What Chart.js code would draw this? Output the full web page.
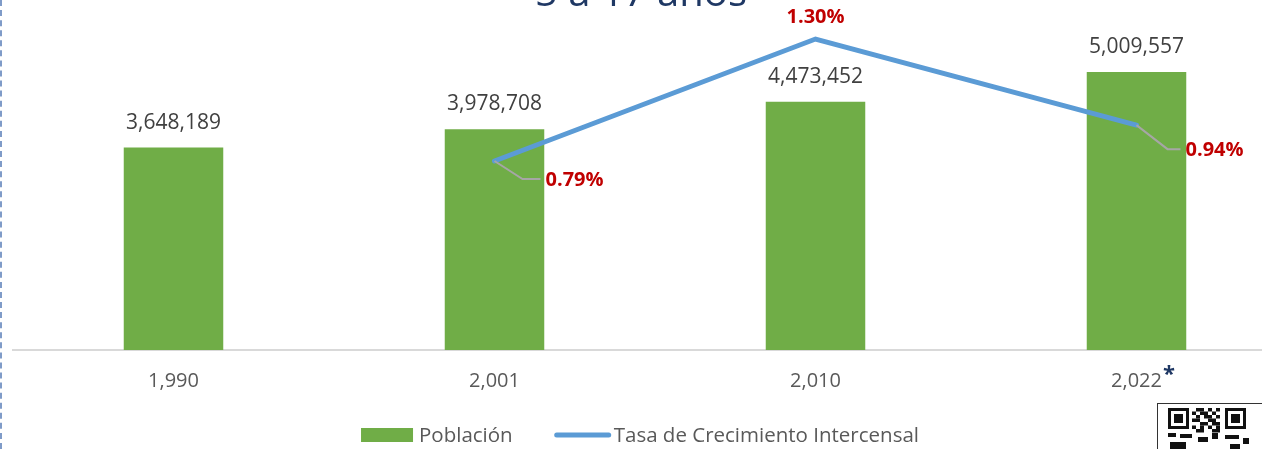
<!DOCTYPE html>
<html lang="es">
<head>
  <meta charset="UTF-8" />
  <title>Población 5 a 17 años</title>
  <script src="https://cdn.jsdelivr.net/npm/chart.js"></script>
  <style>
    body {
      margin: 0;
      padding: 0;
      background: #fff;
      overflow: hidden;
      font-family: 'Open Sans', sans-serif;
    }
    .marco {
      position: absolute;
      left: 0;
      top: 0;
      width: 1300px;
      height: 449px;
    }
    .borde {
      position: absolute;
      left: 0;
      top: 0;
      height: 449px;
      border-left: 2px dashed #7f9bc8;
    }
  </style>
</head>
<body>
  <div class="marco"><canvas id="grafico" width="1300" height="449"></canvas></div>
  <div class="borde"></div>

  <script>
    const anios = ["1,990", "2,001", "2,010", "2,022"];
    const poblacion = [3648189, 3978708, 4473452, 5009557];
    const tasa = [null, 0.79, 1.30, 0.94];

    // donde va cada etiqueta de tasa respecto a su punto
    const posTasa = [null, { dx: 28, dy: 18, largo: 18 }, { dx: 0, dy: -22, arriba: true }, { dx: 31, dy: 24, largo: 13 }];

    const etiquetas = {
      id: 'etiquetas',
      afterDatasetsDraw(chart) {
        const ctx = chart.ctx;
        ctx.save();

        // valores sobre las barras
        const barras = chart.getDatasetMeta(0).data;
        ctx.font = '21px "Open Sans", sans-serif';
        ctx.fillStyle = '#404040';
        ctx.textAlign = 'center';
        ctx.textBaseline = 'middle';
        barras.forEach((b, i) => {
          ctx.fillText(poblacion[i].toLocaleString('en-US'), b.x, b.y - 25);
        });

        // tasas en rojo con su guía gris
        const puntos = chart.getDatasetMeta(1).data;
        ctx.font = 'bold 20px "Open Sans", sans-serif';
        puntos.forEach((p, i) => {
          const pos = posTasa[i];
          if (tasa[i] === null || !pos) return;
          const txt = tasa[i].toFixed(2) + '%';
          if (pos.arriba) {
            ctx.fillStyle = '#c00000';
            ctx.textAlign = 'center';
            ctx.fillText(txt, p.x, p.y + pos.dy);
            return;
          }
          ctx.strokeStyle = '#a6a6a6';
          ctx.lineWidth = 2;
          ctx.beginPath();
          ctx.moveTo(p.x, p.y);
          ctx.lineTo(p.x + pos.dx, p.y + pos.dy);
          ctx.lineTo(p.x + pos.dx + pos.largo, p.y + pos.dy);
          ctx.stroke();
          ctx.fillStyle = '#c00000';
          ctx.textAlign = 'left';
          ctx.fillText(txt, p.x + pos.dx + pos.largo + 5, p.y + pos.dy + 1);
        });

        // título cortado arriba
        ctx.font = '40px "Open Sans", sans-serif';
        ctx.fillStyle = '#1f3864';
        ctx.textAlign = 'center';
        ctx.textBaseline = 'alphabetic';
        ctx.fillText('5 a 17 años', 641, 6);

        // asterisco del último año
        const x = chart.scales.x;
        const ultimo = anios.length - 1;
        ctx.font = '20px "Open Sans", sans-serif';
        const ancho = ctx.measureText(anios[ultimo]).width;
        ctx.font = 'bold 22px "Open Sans", sans-serif';
        ctx.fillStyle = '#1f3864';
        ctx.textAlign = 'left';
        ctx.fillText('*', x.getPixelForValue(ultimo) + ancho / 2 + 1, 381);

        // leyenda
        const ds = chart.data.datasets;
        ctx.font = '20.5px "Open Sans", sans-serif';
        ctx.textBaseline = 'middle';
        const w0 = ctx.measureText(ds[0].label).width;
        const w1 = ctx.measureText(ds[1].label).width;
        const total = 52 + 6 + w0 + 42 + 56 + 3 + w1;
        let lx = 640 - total / 2;
        const ly = 435;
        ctx.fillStyle = ds[0].backgroundColor;
        ctx.fillRect(lx, ly - 7, 52, 14);
        ctx.fillStyle = '#595959';
        ctx.fillText(ds[0].label, lx + 58, ly + 1);
        lx += 58 + w0 + 42;
        ctx.strokeStyle = ds[1].borderColor;
        ctx.lineWidth = 5;
        ctx.lineCap = 'round';
        ctx.beginPath();
        ctx.moveTo(lx + 2, ly);
        ctx.lineTo(lx + 54, ly);
        ctx.stroke();
        ctx.fillText(ds[1].label, lx + 59, ly + 1);

        // código QR (adorno)
        ctx.fillStyle = '#fff';
        ctx.fillRect(1157, 403, 110, 50);
        ctx.strokeStyle = '#333';
        ctx.lineWidth = 1;
        ctx.lineCap = 'butt';
        ctx.strokeRect(1157.5, 403.5, 110, 50);
        ctx.fillStyle = '#111';
        const cuadro = (cx, cy) => {
          ctx.fillRect(cx, cy, 21, 21);
          ctx.fillStyle = '#fff';
          ctx.fillRect(cx + 3, cy + 3, 15, 15);
          ctx.fillStyle = '#111';
          ctx.fillRect(cx + 6, cy + 6, 9, 9);
        };
        cuadro(1168, 408);
        cuadro(1225, 408);
        const bloques = ['0110101', '1011010', '0101101', '1100110', '0011011', '1010101', '0110011'];
        bloques.forEach((fila, r) => {
          for (let c = 0; c < fila.length; c++) {
            if (fila[c] === '1') ctx.fillRect(1192 + c * 4, 408 + r * 3.5, 4, 3.5);
          }
        });
        ctx.fillRect(1168, 433, 8, 4);
        ctx.fillRect(1180, 434, 12, 4);
        ctx.fillRect(1198, 437, 10, 5);
        ctx.fillRect(1212, 433, 6, 6);
        ctx.fillRect(1225, 435, 14, 4);
        ctx.fillRect(1243, 438, 6, 6);
        ctx.fillRect(1170, 442, 16, 7);
        ctx.fillRect(1230, 444, 10, 5);
        ctx.restore();
      }
    };

    new Chart(document.getElementById('grafico'), {
      data: {
        labels: anios,
        datasets: [{
          type: 'bar',
          label: 'Población',
          data: poblacion,
          backgroundColor: '#70ad47',
          borderWidth: 0,
          barPercentage: 0.31,
          categoryPercentage: 1,
          yAxisID: 'y',
          order: 1
        }, {
          type: 'line',
          label: 'Tasa de Crecimiento Intercensal',
          data: tasa,
          borderColor: '#5b9bd5',
          backgroundColor: '#5b9bd5',
          borderWidth: 5,
          borderCapStyle: 'round',
          pointRadius: 0,
          tension: 0,
          yAxisID: 'y1',
          order: 0
        }]
      },
      options: {
        responsive: false,
        animation: false,
        layout: { padding: { left: 13, right: 3, top: 17, bottom: 0 } },
        scales: {
          x: {
            grid: { display: false },
            border: { display: true, color: '#d9d9d9', width: 2 },
            ticks: { color: '#595959', font: { family: 'Open Sans', size: 20 }, padding: 11 },
            afterFit: (s) => { s.height = 99; }
          },
          y: { display: false, min: 0, max: 6000000 },
          y1: { display: false, min: 0, max: 1.392 }
        },
        plugins: {
          legend: { display: false },
          tooltip: { enabled: false }
        }
      },
      plugins: [etiquetas]
    });
  </script>
</body>
</html>
